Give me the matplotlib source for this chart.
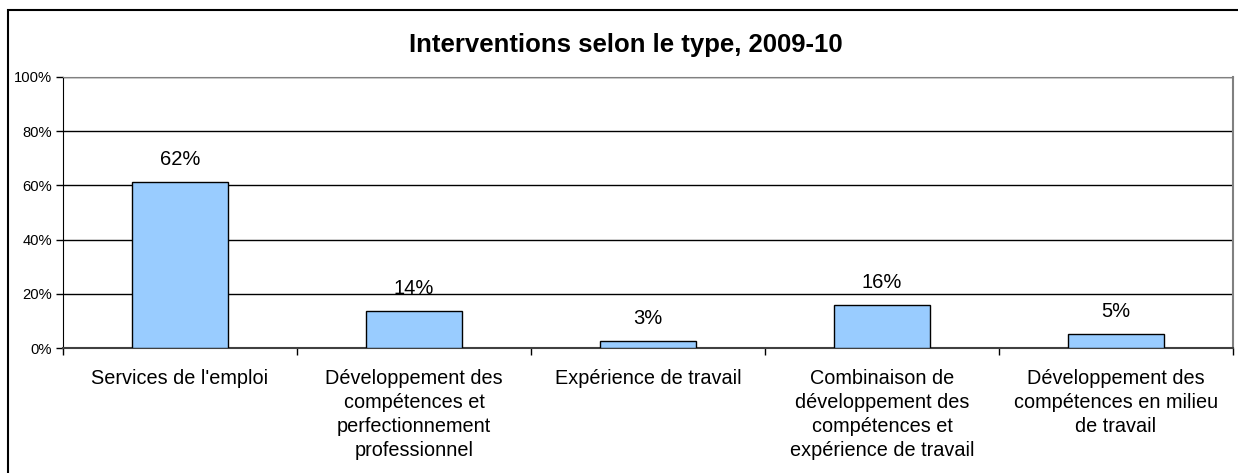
import matplotlib
matplotlib.use("Agg")
import matplotlib.pyplot as plt
from matplotlib.patches import Rectangle
from matplotlib.ticker import FixedLocator, PercentFormatter
import numpy as np

plt.rcParams['font.family'] = ['Liberation Sans', 'DejaVu Sans']

categories = [
    "Services de l'emploi",
    "Développement des\ncompétences et\nperfectionnement\nprofessionnel",
    "Expérience de travail",
    "Combinaison de\ndéveloppement des\ncompétences et\nexpérience de travail",
    "Développement des\ncompétences en milieu\nde travail",
]
values = [61.2, 13.7, 2.7, 16.0, 5.1]
value_labels = ["62%", "14%", "3%", "16%", "5%"]
yticks = [0, 20, 40, 60, 80, 100]

W, H = 1238, 473
fig = plt.figure(figsize=(W / 100, H / 100), dpi=100)
ax = fig.add_axes([63 / W, (H - 348) / H, (1233 - 63) / W, (348 - 77) / H])

x = np.arange(len(categories))
bars = ax.bar(x, values, width=0.41, color='#99CCFF', edgecolor='black', linewidth=1, zorder=3)

for xi, v, lab in zip(x, values, value_labels):
    ax.annotate(lab, (xi, v), xytext=(0, 16), textcoords='offset points',
                ha='center', va='center', fontsize=14.5, zorder=4)

ax.set_xlim(-0.5, len(categories) - 0.5)
ax.set_ylim(0, 100)
ax.set_yticks(yticks)
ax.yaxis.set_major_formatter(PercentFormatter(decimals=0))
ax.tick_params(axis='y', labelsize=10.6, length=5, width=1, direction='out', pad=3)
ax.yaxis.grid(True, color='black', linewidth=1, zorder=0)

ax.xaxis.set_major_locator(FixedLocator(np.arange(-0.5, len(categories), 1.0)))
ax.xaxis.set_minor_locator(FixedLocator(x))
ax.set_xticklabels([], minor=False)
ax.set_xticklabels(categories, minor=True, fontsize=14.3, linespacing=1.33, va='top')
ax.tick_params(axis='x', which='major', length=5, width=1, direction='out')
ax.tick_params(axis='x', which='minor', length=0, pad=15)

ax.spines['top'].set_color('#808080')
ax.spines['right'].set_color('#808080')
ax.spines['right'].set_linewidth(1.5)
ax.spines['bottom'].set_color('#404040')
ax.spines['bottom'].set_linewidth(1.5)
ax.spines['left'].set_color('black')
ax.set_axisbelow(True)

fig.text(626 / W, 1 - 45 / H, "Interventions selon le type, 2009-10", ha='center', va='center',
         fontsize=18.5, fontweight='bold')

fig.add_artist(Rectangle((8 / W, -0.1), 1.2, 1.1 - 10 / H, transform=fig.transFigure,
                         fill=False, edgecolor='black', linewidth=1.5))

fig.savefig('out.png', dpi=100)
